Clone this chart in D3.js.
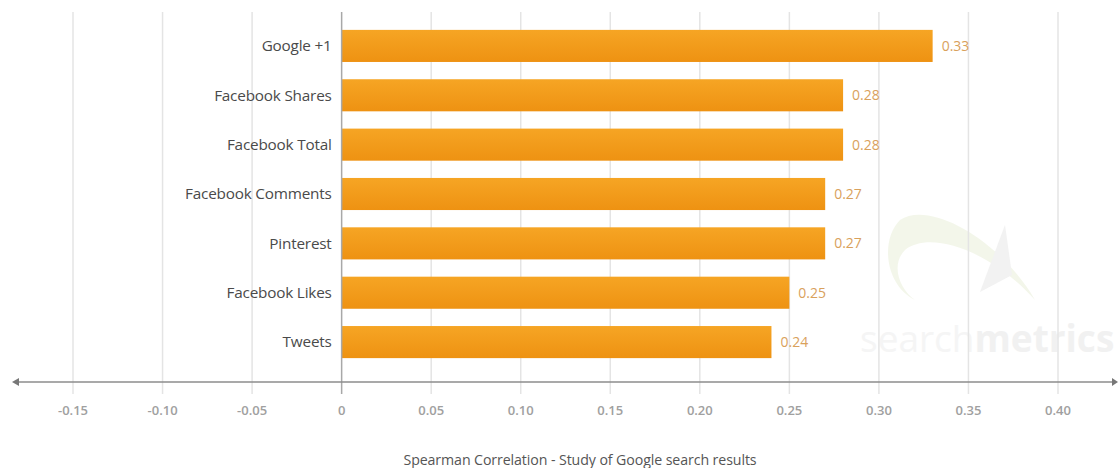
<!DOCTYPE html>
<head>
    <meta charset="utf-8">
    <title>Spearman Correlation</title>
    <style>
        body { margin: 0; background: #fff; }
        svg { display: block; font-family: "Open Sans", Lato, sans-serif; }
        .grid line { stroke: #e4e4e4; stroke-width: 1.5px; }
        .cat { fill: #4a4a4a; font-size: 15.3px; letter-spacing: -0.2px; }
        .val { fill: #d9a15c; font-size: 14px; }
        .tick-label { fill: #a0a0a0; font-size: 13px; font-weight: 600; }
        .title { fill: #555; font-size: 14.2px; letter-spacing: -0.1px; }
    </style>
</head>
<body>
<script src="https://d3js.org/d3.v7.min.js"></script>
<script>

var categories = ["Google +1", "Facebook Shares", "Facebook Total", "Facebook Comments", "Pinterest", "Facebook Likes", "Tweets"];
var values = [0.33, 0.28, 0.28, 0.27, 0.27, 0.25, 0.24];
var tickValues = [-0.15, -0.10, -0.05, 0, 0.05, 0.10, 0.15, 0.20, 0.25, 0.30, 0.35, 0.40];

var width = 1118, height = 468;

var x = d3.scaleLinear()
    .domain([-0.15, 0.40])
    .range([73, 1058]);

var y = d3.scaleBand()
    .domain(categories)
    .range([21, 367])
    .paddingInner(0.35)
    .paddingOuter(0.18);

var svg = d3.select("body").append("svg")
    .attr("width", width)
    .attr("height", height);

var defs = svg.append("defs");
var grad = defs.append("linearGradient")
    .attr("id", "barGrad")
    .attr("x1", 0).attr("y1", 0).attr("x2", 0).attr("y2", 1);
grad.append("stop").attr("offset", "0%").attr("stop-color", "#f6a524");
grad.append("stop").attr("offset", "100%").attr("stop-color", "#ee9212");

// watermark
var wm = svg.append("g").attr("opacity", 0.8);
wm.append("path")
    .attr("d", "M900,220 C930,200 1000,240 1035,300 C990,250 930,230 905,250 C890,265 900,290 915,300 C885,285 880,240 900,220 Z")
    .attr("fill", "#f1f5e6");
wm.append("path")
    .attr("d", "M1005,225 L1012,275 L980,292 Z")
    .attr("fill", "#efefef");
var wmText = wm.append("text")
    .attr("x", 860)
    .attr("y", 352)
    .attr("font-size", 37)
    .attr("fill", "#f3f3f3");
wmText.append("tspan").text("search");
wmText.append("tspan").attr("font-weight", 700).attr("fill", "#eeeeee").text("metrics");

// grid
svg.append("g")
    .attr("class", "grid")
    .selectAll("line")
    .data(tickValues.filter(function(d) { return d !== 0; }))
    .enter().append("line")
      .attr("x1", function(d) { return x(d); })
      .attr("x2", function(d) { return x(d); })
      .attr("y1", 12)
      .attr("y2", 394);

// bars
svg.append("g").selectAll("rect")
    .data(values)
    .enter().append("rect")
      .attr("x", x(0))
      .attr("y", function(d, i) { return y(categories[i]); })
      .attr("width", function(d) { return x(d) - x(0); })
      .attr("height", y.bandwidth())
      .attr("fill", "url(#barGrad)");

// value labels
svg.append("g").selectAll("text")
    .data(values)
    .enter().append("text")
      .attr("class", "val")
      .attr("x", function(d) { return x(d) + 9; })
      .attr("y", function(d, i) { return y(categories[i]) + y.bandwidth() / 2; })
      .attr("dy", "0.35em")
      .text(function(d) { return d.toFixed(2); });

// category labels
svg.append("g").selectAll("text")
    .data(categories)
    .enter().append("text")
      .attr("class", "cat")
      .attr("x", x(0) - 10)
      .attr("y", function(d) { return y(d) + y.bandwidth() / 2; })
      .attr("dy", "0.35em")
      .attr("text-anchor", "end")
      .text(function(d) { return d; });

// zero line
svg.append("line")
    .attr("x1", x(0)).attr("x2", x(0))
    .attr("y1", 12).attr("y2", 394)
    .attr("stroke", "#a8a8a8")
    .attr("stroke-width", 1.5);

// x axis line with arrows
var axisY = 382;
svg.append("line")
    .attr("x1", 14).attr("x2", 1116)
    .attr("y1", axisY).attr("y2", axisY)
    .attr("stroke", "#8c8c8c")
    .attr("stroke-width", 1.5);
svg.append("path")
    .attr("d", "M12," + axisY + " l7,-4 l0,8 Z")
    .attr("fill", "#777");
svg.append("path")
    .attr("d", "M1118," + axisY + " l-6,-4 l0,8 Z")
    .attr("fill", "#777");

// tick labels
svg.append("g").selectAll("text")
    .data(tickValues)
    .enter().append("text")
      .attr("class", "tick-label")
      .attr("x", function(d) { return x(d); })
      .attr("y", 415)
      .attr("text-anchor", "middle")
      .text(function(d) { return d === 0 ? "0" : d.toFixed(2); });

svg.append("text")
    .attr("class", "title")
    .attr("x", 580)
    .attr("y", 465)
    .attr("text-anchor", "middle")
    .text("Spearman Correlation - Study of Google search results");

</script>
</body>
